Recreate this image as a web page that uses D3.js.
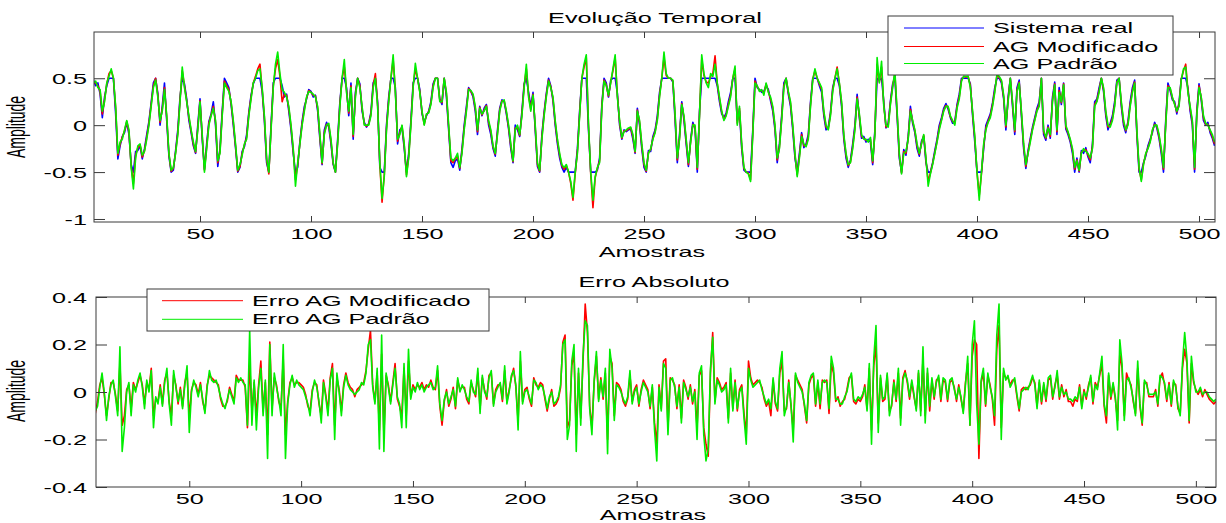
<!DOCTYPE html>
<html>
<head>
<meta charset="utf-8">
<script src="https://cdn.jsdelivr.net/npm/d3@7"></script>
<style>
body { margin: 0; background: #fff; }
svg text { font-family: "Liberation Sans", Arial, Helvetica, sans-serif; }
</style>
</head>
<body>
<div id="main"></div>
<script>
// ---- data ----
// top panel: samples 2..507
var firstSampleTop = 2;
var sistemaReal = [
  0.48,0.42,0.45,0.33,0.08,0.30,0.42,0.50,0.50,0.50,0.12,-0.36,-0.22,-0.12,-0.08,0.03,-0.10,-0.42,-0.50,-0.28,
  -0.27,-0.22,-0.36,-0.25,-0.10,0.04,0.24,0.45,0.50,0.34,0.00,0.20,0.45,0.05,-0.33,-0.50,-0.48,-0.27,-0.05,0.30,
  0.50,0.44,0.28,0.05,-0.08,-0.22,-0.30,0.00,0.28,-0.15,-0.47,-0.20,0.04,0.12,0.25,0.00,-0.44,-0.25,0.15,0.50,
  0.45,0.40,0.22,0.00,-0.24,-0.50,-0.45,-0.28,-0.23,-0.10,0.14,0.32,0.44,0.50,0.50,0.50,0.36,0.05,-0.40,-0.50,
  0.00,0.45,0.50,0.50,0.50,0.42,0.30,0.33,0.15,-0.05,-0.30,-0.50,-0.45,-0.17,0.04,0.20,0.28,0.38,0.36,0.30,
  0.32,0.15,-0.15,-0.42,-0.05,0.03,-0.02,-0.20,-0.42,-0.50,-0.15,0.25,0.50,0.50,0.40,0.10,0.45,-0.15,0.35,0.50,
  0.44,0.15,0.03,-0.02,0.02,0.14,0.45,0.50,0.25,-0.45,-0.50,-0.50,0.00,0.30,0.50,0.50,0.40,-0.20,-0.05,-0.03,
  -0.25,-0.50,-0.30,0.05,0.45,0.50,0.50,0.38,0.12,0.03,0.10,0.15,0.25,0.44,0.50,0.50,0.28,0.22,0.50,0.30,
  -0.05,-0.40,-0.45,-0.38,-0.36,-0.48,-0.25,0.00,0.20,0.40,0.36,0.30,0.15,-0.10,0.20,0.10,0.18,0.22,0.00,-0.10,
  -0.25,-0.33,-0.05,0.18,0.27,0.25,0.12,-0.04,-0.25,-0.40,0.00,-0.05,-0.12,0.15,0.44,0.50,0.35,0.20,0.35,-0.05,
  -0.44,-0.50,-0.10,0.14,0.34,0.50,0.42,0.26,0.00,-0.20,-0.35,-0.45,-0.50,-0.45,-0.50,-0.50,-0.50,-0.50,-0.25,0.15,
  0.50,0.50,0.50,-0.05,-0.50,-0.50,-0.50,-0.48,-0.35,0.22,0.50,0.45,0.30,0.48,0.50,0.50,0.34,0.00,-0.15,-0.05,
  -0.07,-0.05,-0.04,-0.15,-0.30,0.18,0.00,-0.25,-0.45,-0.50,-0.27,-0.28,-0.12,-0.05,0.10,0.35,0.50,0.50,0.50,0.50,
  0.50,0.46,0.05,-0.40,-0.10,0.25,0.05,-0.20,-0.44,-0.15,0.03,-0.04,-0.50,0.15,0.50,0.50,0.50,0.50,0.50,0.50,
  0.50,0.42,0.25,0.12,0.08,0.13,0.25,0.35,0.50,0.50,0.05,0.15,-0.25,-0.48,-0.50,-0.50,-0.50,-0.05,0.50,0.40,
  0.38,0.35,0.36,0.42,0.38,0.26,0.15,-0.05,-0.40,-0.20,0.10,0.45,0.50,0.33,0.20,-0.05,-0.35,-0.50,-0.30,-0.08,
  -0.24,-0.20,-0.10,0.25,0.50,0.50,0.50,0.42,0.35,0.10,-0.05,-0.02,0.14,0.40,0.50,0.50,0.42,0.20,-0.15,-0.35,
  -0.45,-0.37,-0.20,0.00,0.33,0.08,-0.14,-0.12,-0.18,-0.15,-0.18,-0.42,-0.05,0.50,0.48,0.50,0.25,-0.03,0.02,0.26,
  0.44,0.50,0.10,-0.35,-0.50,-0.26,-0.32,-0.12,0.20,0.02,-0.08,-0.25,-0.33,-0.17,-0.12,-0.40,-0.50,-0.50,-0.40,-0.27,
  -0.15,0.00,0.08,0.18,0.23,0.17,0.08,0.02,0.04,0.22,0.33,0.50,0.50,0.50,0.50,0.44,0.10,-0.18,-0.50,-0.50,
  -0.50,-0.25,0.00,0.06,0.12,0.24,0.40,0.50,0.50,0.45,0.28,-0.05,0.30,0.50,0.20,-0.10,0.40,0.48,0.10,-0.25,
  -0.46,-0.27,-0.14,-0.02,0.08,0.18,0.25,0.50,-0.10,-0.16,0.00,-0.14,0.30,0.46,-0.10,0.40,0.22,0.45,-0.04,-0.10,
  -0.18,-0.30,-0.50,-0.35,-0.50,-0.27,-0.30,-0.24,-0.34,-0.40,-0.20,0.25,0.28,0.40,0.50,0.36,0.10,-0.05,0.02,0.10,
  0.25,0.48,0.50,0.20,0.00,-0.08,0.04,0.25,0.40,0.48,-0.10,-0.50,-0.50,-0.40,-0.33,-0.22,-0.15,-0.08,0.03,-0.03,
  -0.14,-0.30,-0.50,0.05,0.45,0.37,0.27,0.25,0.12,0.24,0.50,0.50,0.50,0.40,0.15,0.00,-0.50,0.15,0.44,0.27,
  0.05,0.00,0.03,-0.08,-0.14,-0.22
];
var agModificado = [
  0.46,0.45,0.42,0.36,0.12,0.27,0.44,0.55,0.58,0.50,0.18,-0.32,-0.20,-0.13,-0.06,0.04,-0.07,-0.44,-0.62,-0.32,
  -0.24,-0.21,-0.34,-0.27,-0.13,0.02,0.22,0.42,0.50,0.32,0.03,0.17,0.40,0.08,-0.31,-0.49,-0.46,-0.29,-0.08,0.27,
  0.58,0.42,0.26,0.08,-0.06,-0.20,-0.29,-0.03,0.26,-0.12,-0.48,-0.23,0.02,0.11,0.20,0.03,-0.40,-0.28,0.12,0.47,
  0.42,0.38,0.24,0.03,-0.22,-0.49,-0.44,-0.30,-0.21,-0.13,0.12,0.30,0.45,0.52,0.60,0.65,0.38,0.08,-0.37,-0.52,
  -0.03,0.42,0.60,0.70,0.52,0.25,0.33,0.32,0.18,-0.02,-0.27,-0.58,-0.42,-0.19,0.02,0.17,0.29,0.37,0.35,0.32,
  0.31,0.18,-0.12,-0.41,-0.08,0.01,0.00,-0.17,-0.41,-0.50,-0.18,0.22,0.50,0.62,0.37,0.13,0.42,-0.12,0.32,0.50,
  0.42,0.18,0.01,-0.01,0.01,0.12,0.42,0.55,0.22,-0.42,-0.82,-0.53,-0.03,0.27,0.50,0.70,0.37,-0.17,-0.08,-0.01,
  -0.22,-0.53,-0.33,0.02,0.42,0.60,0.50,0.36,0.14,0.01,0.11,0.14,0.23,0.42,0.50,0.50,0.27,0.24,0.50,0.33,
  -0.02,-0.38,-0.40,-0.36,-0.33,-0.46,-0.28,-0.03,0.17,0.39,0.36,0.32,0.18,-0.07,0.19,0.11,0.16,0.21,0.03,-0.07,
  -0.23,-0.31,-0.08,0.16,0.26,0.26,0.14,-0.02,-0.22,-0.39,-0.03,-0.02,-0.11,0.12,0.42,0.60,0.32,0.17,0.33,-0.02,
  -0.42,-0.49,-0.13,0.12,0.32,0.48,0.41,0.28,0.03,-0.17,-0.32,-0.43,-0.47,-0.43,-0.50,-0.62,-0.80,-0.52,-0.28,0.12,
  0.50,0.62,0.72,-0.02,-0.52,-0.88,-0.56,-0.46,-0.38,0.20,0.48,0.43,0.31,0.46,0.58,0.72,0.32,0.03,-0.14,-0.06,
  -0.06,-0.04,-0.03,-0.12,-0.29,0.16,0.03,-0.22,-0.42,-0.49,-0.29,-0.26,-0.14,-0.07,0.07,0.32,0.50,0.72,0.53,0.50,
  0.50,0.47,0.10,-0.37,-0.13,0.23,0.08,-0.17,-0.42,-0.17,0.01,-0.02,-0.47,0.12,0.70,0.53,0.46,0.45,0.52,0.55,
  0.74,0.44,0.28,0.14,0.06,0.11,0.22,0.32,0.50,0.60,0.02,0.18,-0.22,-0.46,-0.50,-0.51,-0.58,-0.08,0.47,0.41,
  0.37,0.37,0.34,0.44,0.36,0.28,0.18,-0.02,-0.37,-0.23,0.07,0.42,0.50,0.35,0.23,-0.02,-0.32,-0.53,-0.33,-0.10,
  -0.22,-0.22,-0.13,0.22,0.49,0.58,0.50,0.44,0.38,0.13,-0.02,-0.04,0.12,0.38,0.50,0.62,0.44,0.23,-0.12,-0.32,
  -0.43,-0.39,-0.23,-0.03,0.30,0.10,-0.12,-0.14,-0.16,-0.17,-0.15,-0.40,-0.08,0.65,0.46,0.62,0.22,-0.02,0.00,0.24,
  0.42,0.55,0.13,-0.32,-0.51,-0.28,-0.30,-0.14,0.17,0.04,-0.06,-0.22,-0.31,-0.19,-0.11,-0.37,-0.60,-0.51,-0.41,-0.29,
  -0.17,-0.03,0.06,0.16,0.21,0.19,0.09,0.04,0.02,0.20,0.30,0.48,0.52,0.51,0.52,0.42,0.13,-0.14,-0.50,-0.75,
  -0.52,-0.22,-0.03,0.04,0.10,0.22,0.37,0.53,0.51,0.47,0.30,-0.02,0.27,0.50,0.23,-0.07,0.37,0.46,0.13,-0.22,
  -0.44,-0.29,-0.16,-0.04,0.06,0.16,0.22,0.50,-0.07,-0.14,-0.02,-0.12,0.27,0.44,-0.07,0.37,0.24,0.44,-0.02,-0.08,
  -0.16,-0.27,-0.47,-0.37,-0.49,-0.29,-0.27,-0.26,-0.32,-0.37,-0.23,0.22,0.26,0.37,0.50,0.38,0.13,-0.02,0.00,0.07,
  0.22,0.46,0.50,0.23,0.03,-0.06,0.02,0.22,0.37,0.46,-0.07,-0.47,-0.58,-0.41,-0.31,-0.24,-0.17,-0.06,0.01,-0.01,
  -0.12,-0.27,-0.47,0.02,0.42,0.39,0.29,0.23,0.14,0.22,0.49,0.58,0.65,0.37,0.18,0.03,-0.47,0.12,0.42,0.29,
  0.08,0.01,0.01,-0.06,-0.12,-0.20
];
var agPadrao = [
  0.45,0.47,0.40,0.38,0.15,0.25,0.45,0.52,0.60,0.50,0.20,-0.30,-0.18,-0.15,-0.05,0.05,-0.05,-0.45,-0.68,-0.35,
  -0.22,-0.20,-0.32,-0.28,-0.15,0.00,0.20,0.40,0.48,0.30,0.05,0.15,0.38,0.10,-0.30,-0.48,-0.45,-0.30,-0.10,0.25,
  0.62,0.40,0.25,0.10,-0.05,-0.18,-0.28,-0.05,0.25,-0.10,-0.50,-0.25,0.00,0.10,0.18,0.05,-0.38,-0.30,0.10,0.45,
  0.40,0.36,0.25,0.05,-0.20,-0.48,-0.42,-0.32,-0.20,-0.15,0.10,0.28,0.45,0.50,0.58,0.60,0.40,0.10,-0.35,-0.50,
  -0.05,0.40,0.65,0.78,0.55,0.38,0.35,0.30,0.20,0.00,-0.25,-0.65,-0.40,-0.20,0.00,0.15,0.30,0.36,0.35,0.33,
  0.30,0.20,-0.10,-0.40,-0.10,0.00,0.02,-0.15,-0.40,-0.50,-0.20,0.20,0.50,0.70,0.35,0.15,0.40,-0.10,0.30,0.50,
  0.40,0.20,0.00,0.00,0.00,0.10,0.40,0.50,0.20,-0.40,-0.78,-0.55,-0.05,0.25,0.50,0.75,0.35,-0.15,-0.10,0.00,
  -0.20,-0.55,-0.35,0.00,0.40,0.66,0.50,0.35,0.15,0.00,0.12,0.13,0.22,0.40,0.50,0.50,0.25,0.25,0.50,0.35,
  0.00,-0.35,-0.38,-0.35,-0.30,-0.45,-0.30,-0.05,0.15,0.38,0.37,0.33,0.20,-0.05,0.18,0.12,0.15,0.20,0.05,-0.05,
  -0.22,-0.30,-0.10,0.15,0.25,0.27,0.15,0.00,-0.20,-0.38,-0.05,0.00,-0.10,0.10,0.40,0.65,0.30,0.15,0.32,0.00,
  -0.40,-0.48,-0.15,0.10,0.30,0.47,0.40,0.30,0.05,-0.15,-0.30,-0.42,-0.45,-0.42,-0.50,-0.60,-0.77,-0.50,-0.30,0.10,
  0.50,0.65,0.75,0.00,-0.50,-0.80,-0.55,-0.45,-0.40,0.18,0.47,0.42,0.32,0.45,0.60,0.75,0.30,0.05,-0.13,-0.07,
  -0.05,-0.03,-0.02,-0.10,-0.28,0.15,0.05,-0.20,-0.40,-0.48,-0.30,-0.25,-0.15,-0.08,0.05,0.30,0.50,0.78,0.55,0.50,
  0.50,0.48,0.12,-0.35,-0.15,0.22,0.10,-0.15,-0.40,-0.18,0.00,0.00,-0.45,0.10,0.75,0.55,0.45,0.40,0.55,0.52,
  0.65,0.45,0.30,0.15,0.05,0.10,0.20,0.30,0.50,0.63,0.00,0.20,-0.20,-0.45,-0.50,-0.52,-0.60,-0.10,0.45,0.42,
  0.36,0.38,0.32,0.45,0.35,0.30,0.20,0.00,-0.35,-0.25,0.05,0.40,0.50,0.36,0.25,0.00,-0.30,-0.55,-0.35,-0.12,
  -0.20,-0.23,-0.15,0.20,0.48,0.60,0.50,0.45,0.40,0.15,0.00,-0.05,0.10,0.36,0.50,0.60,0.45,0.25,-0.10,-0.30,
  -0.42,-0.40,-0.25,-0.05,0.28,0.12,-0.10,-0.15,-0.15,-0.18,-0.13,-0.38,-0.10,0.72,0.45,0.68,0.20,0.00,-0.02,0.22,
  0.40,0.58,0.15,-0.30,-0.52,-0.30,-0.28,-0.15,0.15,0.05,-0.05,-0.20,-0.30,-0.20,-0.10,-0.35,-0.65,-0.52,-0.42,-0.30,
  -0.18,-0.05,0.05,0.15,0.20,0.20,0.10,0.05,0.00,0.18,0.28,0.47,0.52,0.52,0.52,0.40,0.15,-0.12,-0.50,-0.80,
  -0.50,-0.20,-0.05,0.03,0.08,0.20,0.35,0.55,0.52,0.48,0.32,0.00,0.25,0.50,0.25,-0.05,0.35,0.45,0.15,-0.20,
  -0.42,-0.30,-0.18,-0.05,0.05,0.15,0.20,0.50,-0.05,-0.13,-0.03,-0.10,0.25,0.43,-0.05,0.35,0.25,0.43,0.00,-0.07,
  -0.15,-0.25,-0.45,-0.38,-0.48,-0.30,-0.25,-0.28,-0.30,-0.35,-0.25,0.20,0.25,0.35,0.50,0.40,0.15,0.00,-0.02,0.05,
  0.20,0.45,0.50,0.25,0.05,-0.05,0.00,0.20,0.35,0.45,-0.05,-0.45,-0.60,-0.42,-0.30,-0.25,-0.18,-0.05,0.00,0.00,
  -0.10,-0.25,-0.45,0.00,0.40,0.40,0.30,0.22,0.15,0.20,0.48,0.60,0.62,0.35,0.20,0.05,-0.45,0.10,0.40,0.30,
  0.10,0.02,0.00,-0.05,-0.10,-0.18
];

// bottom panel: samples 8..509
var firstSampleErr = 8;
var erroAgModificado = [
  -0.09,-0.04,0.03,0.06,-0.01,-0.10,-0.03,0.04,0.04,-0.01,-0.08,0.12,-0.14,-0.10,0.01,0.03,-0.07,0.04,0.01,0.04,
  0.07,0.03,-0.05,0.04,0.01,0.10,-0.10,-0.03,-0.04,0.03,-0.05,0.05,0.08,-0.04,-0.10,0.07,0.03,-0.05,0.02,-0.06,
  0.04,0.08,-0.11,0.01,0.04,0.03,-0.01,0.04,-0.04,-0.08,0.03,0.07,0.06,0.05,0.04,0.03,-0.03,-0.06,-0.06,-0.04,
  0.02,-0.01,-0.04,0.07,0.05,0.05,0.05,0.02,-0.15,0.12,-0.08,0.04,-0.10,0.03,0.13,-0.08,0.04,-0.18,0.21,-0.07,
  0.06,0.03,-0.04,-0.07,0.14,-0.18,-0.04,0.04,0.06,0.03,0.04,0.04,0.03,0.02,-0.01,-0.06,-0.08,0.01,0.04,0.03,
  -0.05,-0.10,0.05,-0.01,-0.08,0.06,0.12,-0.14,0.06,0.01,-0.08,0.03,0.08,0.04,0.02,0.01,-0.02,0.01,0.02,0.03,
  0.04,0.09,0.18,0.26,0.03,-0.04,0.08,-0.16,0.16,-0.18,0.07,0.03,-0.04,0.04,0.12,-0.03,-0.06,-0.10,0.10,-0.10,
  0.13,-0.02,0.03,0.01,0.03,0.02,0.04,0.01,0.03,0.02,0.05,0.02,0.01,0.09,-0.06,-0.14,-0.04,0.01,-0.06,-0.03,
  0.02,-0.07,0.05,0.01,0.02,0.02,-0.03,-0.05,0.04,0.01,-0.02,0.08,-0.07,0.06,0.01,-0.03,0.07,0.08,-0.05,0.01,
  0.03,0.03,-0.04,0.09,-0.04,0.01,0.06,0.10,0.02,-0.12,0.13,-0.04,0.01,0.02,-0.03,-0.06,0.06,0.03,0.02,0.04,
  0.03,-0.03,-0.08,-0.03,0.01,-0.06,-0.05,-0.03,0.02,0.21,0.24,-0.15,-0.12,0.11,0.16,-0.18,0.08,-0.11,0.12,0.37,
  0.25,-0.06,-0.15,0.04,0.15,-0.03,0.06,-0.03,0.08,-0.20,0.15,0.12,-0.10,0.04,0.03,0.01,-0.04,-0.06,-0.03,0.07,
  -0.04,0.01,0.03,-0.06,0.01,0.05,0.03,0.01,-0.07,0.02,-0.13,-0.22,0.03,-0.07,0.13,0.14,-0.15,0.06,0.05,0.03,
  -0.07,0.03,-0.11,0.05,0.02,-0.03,0.03,-0.05,0.01,-0.15,0.07,0.09,-0.15,-0.22,-0.27,0.08,0.25,-0.04,0.06,0.04,
  0.01,0.02,0.04,-0.11,0.08,-0.07,0.05,-0.08,0.01,0.03,-0.09,-0.18,0.13,0.06,0.03,0.04,0.05,0.04,0.02,-0.03,
  -0.06,-0.04,-0.10,0.05,-0.05,-0.08,0.08,0.13,-0.08,-0.07,0.05,-0.06,-0.16,0.07,0.05,0.03,0.01,-0.06,-0.13,0.03,
  0.06,0.07,-0.06,0.04,-0.07,0.05,0.04,0.05,-0.09,0.12,0.08,-0.04,-0.02,-0.06,-0.04,-0.03,0.01,0.06,0.07,-0.04,
  -0.05,-0.03,-0.04,-0.02,0.03,-0.07,0.10,-0.16,0.11,0.20,-0.13,0.06,-0.04,-0.03,0.07,-0.08,-0.06,0.05,-0.04,0.08,
  -0.11,0.06,0.09,0.04,-0.03,0.04,-0.02,-0.07,0.08,-0.08,0.14,-0.10,0.08,-0.08,0.05,-0.03,0.05,0.06,-0.04,0.05,
  0.04,-0.04,0.04,0.05,0.02,-0.04,0.03,-0.03,-0.08,0.04,0.12,-0.14,0.15,0.22,0.20,-0.28,0.04,0.08,-0.06,0.07,
  0.03,-0.03,-0.14,0.18,0.28,-0.15,0.08,0.06,0.06,0.03,0.05,0.05,-0.02,-0.08,0.01,0.02,0.01,0.02,0.03,0.06,
  0.04,-0.06,0.04,-0.05,0.03,-0.04,0.05,0.06,-0.03,0.03,0.07,-0.03,0.03,-0.02,0.01,-0.04,-0.04,-0.06,-0.03,-0.04,
  0.03,-0.06,0.01,-0.03,0.03,0.06,-0.05,0.04,0.02,0.07,0.12,-0.06,-0.13,0.07,-0.03,0.03,-0.03,-0.12,0.16,0.10,
  -0.10,0.08,0.05,0.03,-0.04,-0.09,0.10,-0.06,-0.14,0.04,0.04,-0.02,-0.02,-0.02,0.01,-0.06,0.06,0.08,0.03,-0.04,
  0.04,-0.06,0.04,0.03,-0.07,-0.09,0.10,0.18,0.12,-0.13,0.12,0.04,0.01,-0.01,0.01,-0.02,0.01,-0.01,-0.03,-0.04,
  -0.05,-0.04
];
var erroAgPadrao = [
  -0.08,-0.06,0.02,0.08,0.00,-0.12,-0.02,0.03,0.05,-0.02,-0.10,0.19,-0.25,-0.15,0.00,0.04,-0.10,0.03,0.00,0.05,
  0.08,0.02,-0.07,0.05,0.00,0.09,-0.15,-0.02,-0.05,0.02,-0.06,0.04,0.10,-0.05,-0.14,0.09,0.02,-0.04,0.01,-0.07,
  0.03,0.11,-0.17,0.00,0.05,0.02,-0.02,0.03,-0.03,-0.09,0.02,0.09,0.05,0.04,0.05,0.02,-0.02,-0.05,-0.07,-0.03,
  0.01,-0.02,-0.05,0.06,0.04,0.06,0.04,0.03,-0.14,0.26,-0.14,0.05,-0.16,0.02,0.10,-0.10,0.05,-0.28,0.20,-0.10,
  0.08,0.02,-0.03,-0.10,0.20,-0.28,-0.05,0.03,0.07,0.02,0.05,0.03,0.02,0.01,-0.02,-0.05,-0.10,0.00,0.05,0.02,
  -0.04,-0.13,0.04,-0.02,-0.10,0.05,0.10,-0.20,0.08,0.00,-0.10,0.02,0.07,0.03,0.01,0.00,-0.01,0.00,0.01,0.04,
  0.03,0.08,0.20,0.22,0.02,-0.05,0.10,-0.24,0.24,-0.25,0.08,0.02,-0.05,0.03,0.10,-0.02,-0.05,-0.15,0.12,-0.15,
  0.18,-0.03,0.02,0.00,0.04,0.01,0.03,0.00,0.02,0.03,0.04,0.01,0.02,0.11,-0.05,-0.12,-0.03,0.00,-0.05,-0.02,
  0.01,-0.06,0.06,0.00,0.03,0.01,-0.02,-0.04,0.05,0.00,-0.01,0.10,-0.09,0.07,0.00,-0.02,0.06,0.09,-0.06,0.00,
  0.02,0.04,-0.03,0.11,-0.05,0.00,0.07,0.09,0.03,-0.16,0.17,-0.05,0.00,0.01,-0.02,-0.05,0.05,0.04,0.01,0.03,
  0.02,-0.02,-0.07,-0.02,0.00,-0.05,-0.04,-0.02,0.03,0.20,0.22,-0.20,-0.14,0.13,0.20,-0.25,0.10,-0.14,0.15,0.30,
  0.28,-0.07,-0.18,0.05,0.17,-0.04,0.05,-0.02,0.10,-0.26,0.18,0.10,-0.12,0.03,0.02,0.00,-0.03,-0.05,-0.02,0.09,
  -0.05,0.00,0.02,-0.05,0.00,0.04,0.02,0.00,-0.06,0.03,-0.16,-0.29,0.02,-0.08,0.12,0.10,-0.18,0.05,0.06,0.02,
  -0.06,0.02,-0.13,0.04,0.01,-0.02,0.02,-0.04,0.00,-0.20,0.08,0.11,-0.18,-0.29,-0.24,0.10,0.23,-0.05,0.05,0.03,
  0.00,0.01,0.03,-0.13,0.10,-0.08,0.04,-0.07,0.00,0.02,-0.11,-0.22,0.10,0.05,0.02,0.03,0.04,0.05,0.01,-0.02,
  -0.05,-0.03,-0.07,0.06,-0.04,-0.07,0.10,0.17,-0.10,-0.06,0.04,-0.05,-0.21,0.08,0.04,0.02,0.00,-0.05,-0.12,0.04,
  0.07,0.08,-0.05,0.05,-0.05,0.04,0.05,0.04,-0.07,0.15,0.10,-0.03,-0.03,-0.05,-0.05,-0.02,0.00,0.05,0.08,-0.03,
  -0.04,-0.02,-0.03,-0.01,0.02,-0.08,0.12,-0.22,0.14,0.28,-0.17,0.07,-0.03,-0.02,0.08,-0.10,-0.05,0.04,-0.03,0.10,
  -0.14,0.05,0.08,0.05,-0.02,0.05,-0.01,-0.08,0.09,-0.10,0.19,-0.13,0.10,-0.06,0.06,-0.02,0.04,0.07,-0.03,0.06,
  0.05,-0.03,0.05,0.06,0.01,-0.03,0.02,-0.02,-0.09,0.03,0.15,-0.14,0.20,0.30,-0.05,-0.22,0.05,0.10,-0.05,0.08,
  0.02,-0.02,-0.10,0.24,0.37,-0.20,0.10,0.05,0.07,0.02,0.04,0.06,-0.01,-0.07,0.00,0.01,0.02,0.01,0.04,0.07,
  0.03,-0.07,0.05,-0.04,0.04,-0.03,0.06,0.07,-0.02,0.02,0.09,-0.02,0.02,-0.01,0.00,-0.03,-0.03,-0.04,-0.02,-0.03,
  0.02,-0.07,0.00,-0.02,0.02,0.07,-0.04,0.03,0.01,0.08,0.15,-0.05,-0.10,0.08,-0.02,0.04,-0.02,-0.16,0.22,0.12,
  -0.12,0.05,0.06,0.02,-0.03,-0.10,0.13,-0.05,-0.13,0.05,0.03,-0.01,-0.01,-0.01,0.00,-0.05,0.07,0.06,0.04,-0.03,
  0.03,-0.05,0.05,0.02,-0.06,-0.10,0.12,0.25,0.14,-0.12,0.15,0.05,0.00,0.00,0.02,-0.01,0.00,0.00,-0.02,-0.03,
  -0.04,-0.03
];

// axes, ticks and texts
var topXDomain = [2.25, 507.2];
var topYDomain = [-1.032, 0.993];
var errXDomain = [8.3, 509];
var errYDomain = [-0.4, 0.4];
var xTicks = [50, 100, 150, 200, 250, 300, 350, 400, 450, 500];
var xTickLabels = ["50", "100", "150", "200", "250", "300", "350", "400", "450", "500"];
var topYTicks = [-1, -0.5, 0, 0.5];
var topYTickLabels = ["-1", "-0.5", "0", "0.5"];
var errYTicks = [-0.4, -0.2, 0, 0.2, 0.4];
var errYTickLabels = ["-0.4", "-0.2", "0", "0.2", "0.4"];
var topTitle = "Evolução Temporal";
var errTitle = "Erro Absoluto";
var xLabel = "Amostras";
var yLabel = "Amplitude";
var topLegend = ["Sistema real", "AG Modificado", "AG Padrão"];
var errLegend = ["Erro AG Modificado", "Erro AG Padrão"];

var ctx = {
    w: 1226,
    h: 523,
    SX: 1.8,          // the picture's text is stretched sideways
    fontSize: 14,
    axisColor: "#3a3a3a",
    lineWidth: 1.6,
    BLUE: "#0000ff",
    RED: "#ff0000",
    GREEN: "#00ee00",
    xTickLen: 6,
    yTickLen: 11,
};

var stretch = function(x, y){
    return "translate(" + x + "," + y + ") scale(" + ctx.SX + ",1)";
};

var createPanel = function(svgEl, p){
    var xScale = d3.scaleLinear().domain(p.xDomain).range([p.box.left, p.box.right]);
    var yScale = d3.scaleLinear().domain(p.yDomain).range([p.box.bottom, p.box.top]);
    var g = svgEl.append("g");

    g.append("clipPath").attr("id", "clip" + p.id)
     .append("rect")
     .attr("x", p.box.left).attr("y", p.box.top)
     .attr("width", p.box.right - p.box.left)
     .attr("height", p.box.bottom - p.box.top);

    // series, first one drawn first (green ends on top)
    var lineG = g.append("g").attr("clip-path", "url(#clip" + p.id + ")");
    p.series.forEach(function(s){
        var line = d3.line()
            .x(function(d, i){ return xScale(p.first + i); })
            .y(function(d){ return yScale(d); });
        lineG.append("path").datum(s.values)
            .attr("d", line)
            .attr("fill", "none")
            .attr("stroke", s.color)
            .attr("stroke-width", ctx.lineWidth)
            .attr("stroke-linejoin", "round");
    });

    // axes with inward ticks on all four sides
    var fmtX = function(d){ return xTickLabels[xTicks.indexOf(d)]; };
    var fmtY = function(d){ return p.yTickLabels[p.yTicks.indexOf(d)]; };

    var xB = g.append("g").attr("transform", "translate(0," + p.box.bottom + ")")
        .call(d3.axisBottom(xScale).tickValues(xTicks).tickSizeInner(-ctx.xTickLen)
              .tickSizeOuter(0).tickFormat(fmtX));
    xB.selectAll("text").attr("y", null).attr("dy", null)
      .attr("transform", stretch(0, 17));
    var xT = g.append("g").attr("transform", "translate(0," + p.box.top + ")")
        .call(d3.axisTop(xScale).tickValues(xTicks).tickSizeInner(-ctx.xTickLen)
              .tickSizeOuter(0).tickFormat(""));
    var yL = g.append("g").attr("transform", "translate(" + p.box.left + ",0)")
        .call(d3.axisLeft(yScale).tickValues(p.yTicks).tickSizeInner(-ctx.yTickLen)
              .tickSizeOuter(0).tickFormat(fmtY));
    yL.selectAll("text").attr("x", null).attr("dy", "0.36em")
      .attr("transform", stretch(87 - p.box.left, 0));
    var yR = g.append("g").attr("transform", "translate(" + p.box.right + ",0)")
        .call(d3.axisRight(yScale).tickValues(p.yTicks).tickSizeInner(-ctx.yTickLen)
              .tickSizeOuter(0).tickFormat(""));

    [xB, xT, yL, yR].forEach(function(a){
        a.select(".domain").remove();
        a.attr("font-size", ctx.fontSize).attr("font-family", null);
        a.selectAll("line").attr("stroke", ctx.axisColor);
        a.selectAll("text").attr("fill", "#000");
    });

    g.append("rect")
     .attr("x", p.box.left).attr("y", p.box.top)
     .attr("width", p.box.right - p.box.left)
     .attr("height", p.box.bottom - p.box.top)
     .attr("fill", "none").attr("stroke", ctx.axisColor).attr("stroke-width", 1);

    // title and labels
    g.append("text").text(p.title)
     .attr("font-size", ctx.fontSize).attr("text-anchor", "middle")
     .attr("transform", stretch(p.titlePos[0], p.titlePos[1]));
    g.append("text").text(xLabel)
     .attr("font-size", ctx.fontSize).attr("text-anchor", "middle")
     .attr("transform", stretch(p.xLabelPos[0], p.xLabelPos[1]));
    g.append("text").text(yLabel)
     .attr("font-size", ctx.fontSize).attr("text-anchor", "middle")
     .attr("transform", "translate(" + p.yLabelPos[0] + "," + p.yLabelPos[1] + ") scale(" + ctx.SX + ",1) rotate(-90)");

    // legend
    var lg = g.append("g");
    lg.append("rect")
      .attr("x", p.legend.x0).attr("y", p.legend.y0)
      .attr("width", p.legend.x1 - p.legend.x0)
      .attr("height", p.legend.y1 - p.legend.y0)
      .attr("fill", "#fff").attr("stroke", ctx.axisColor);
    p.legend.names.forEach(function(name, i){
        var s = p.series[p.series.length - p.legend.names.length + i];
        var y = p.legend.rowY[i];
        lg.append("line")
          .attr("x1", p.legend.lineX[0]).attr("x2", p.legend.lineX[1])
          .attr("y1", y).attr("y2", y)
          .attr("stroke", s.color).attr("stroke-width", 1);
        lg.append("text").text(name)
          .attr("font-size", ctx.fontSize)
          .attr("transform", stretch(p.legend.textX, y + 5));
    });
};

var createViz = function(){
    var svgEl = d3.select("#main").append("svg");
    svgEl.attr("width", ctx.w).attr("height", ctx.h);
    svgEl.append("rect").attr("width", ctx.w).attr("height", ctx.h).attr("fill", "#fff");

    createPanel(svgEl, {
        id: "top",
        box: {left: 94, top: 32, right: 1215, bottom: 222},
        xDomain: topXDomain, yDomain: topYDomain,
        yTicks: topYTicks, yTickLabels: topYTickLabels,
        first: firstSampleTop,
        series: [
            {values: sistemaReal, color: ctx.BLUE},
            {values: agModificado, color: ctx.RED},
            {values: agPadrao, color: ctx.GREEN}
        ],
        title: topTitle, titlePos: [655, 23],
        xLabelPos: [652, 256.5], yLabelPos: [25, 127],
        legend: {x0: 888, x1: 1173, y0: 16, y1: 75, rowY: [28, 46.5, 63.5],
                 lineX: [904, 984], textX: 993, names: topLegend}
    });

    createPanel(svgEl, {
        id: "err",
        box: {left: 96, top: 297, right: 1216, bottom: 487},
        xDomain: errXDomain, yDomain: errYDomain,
        yTicks: errYTicks, yTickLabels: errYTickLabels,
        first: firstSampleErr,
        series: [
            {values: erroAgModificado, color: ctx.RED},
            {values: erroAgPadrao, color: ctx.GREEN}
        ],
        title: errTitle, titlePos: [654, 286.5],
        xLabelPos: [653, 520], yLabelPos: [25, 391],
        legend: {x0: 147, x1: 489, y0: 289, y1: 331, rowY: [300.7, 319.3],
                 lineX: [162, 243], textX: 252, names: errLegend}
    });
};

createViz();
</script>
</body>
</html>
